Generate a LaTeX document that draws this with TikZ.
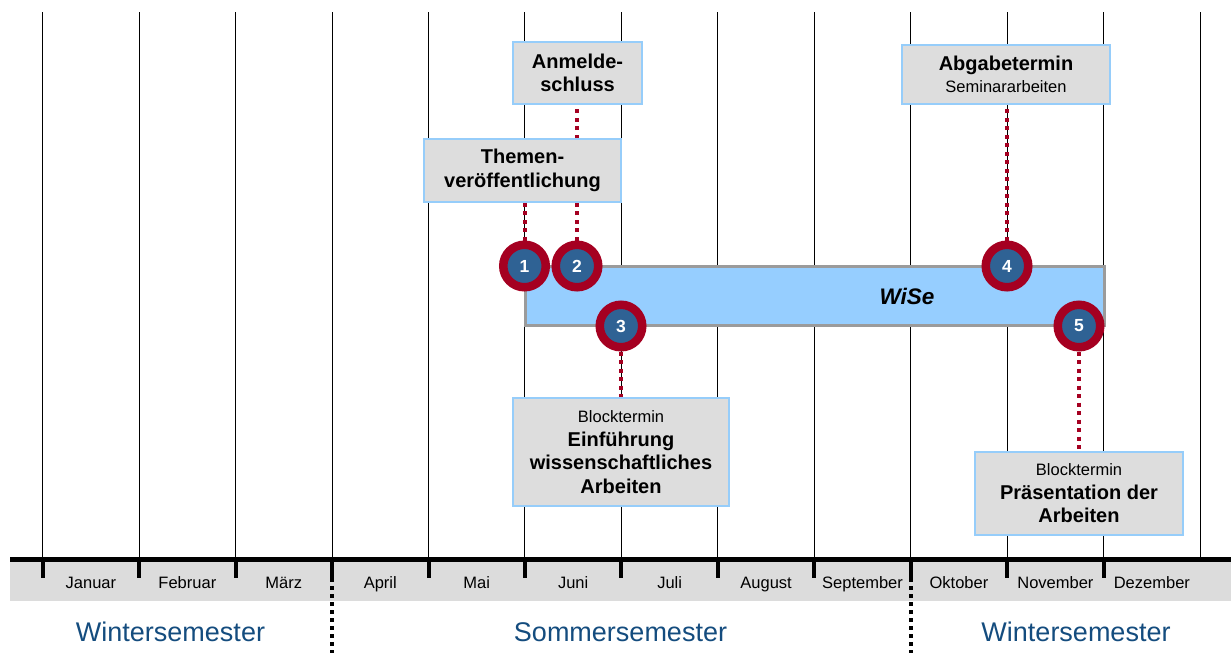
\documentclass[tikz,border=0pt]{standalone}
\usepackage{fontspec}
\setmainfont{Liberation Sans}
\definecolor{bandgray}{RGB}{220,220,220}
\definecolor{boxgray}{RGB}{221,221,221}
\definecolor{boxedge}{RGB}{150,205,250}
\definecolor{barblue}{RGB}{150,206,255}
\definecolor{baredge}{RGB}{155,155,155}
\definecolor{markred}{RGB}{165,0,33}
\definecolor{markblue}{RGB}{47,98,148}
\definecolor{semblue}{RGB}{20,76,126}
\tikzset{
  gridline/.style={line width=1pt, black},
  tickmark/.style={line width=4pt, black},
  semdiv/.style={line width=3.5pt, black, dash pattern=on 3.5pt off 4.5pt},
  reddots/.style={line width=4pt, markred, dash pattern=on 4pt off 4.5pt},
  month/.style={font=\fontsize{16.5}{19}\selectfont, inner sep=0pt, anchor=base},
  semester/.style={font=\fontsize{27}{31}\selectfont, text=semblue, inner sep=0pt, anchor=base},
  infobox/.style={draw=boxedge, line width=2pt, fill=boxgray, align=center, inner sep=0pt,
     font=\fontsize{20}{23.5}\selectfont\bfseries},
  marker/.style={circle, draw=markred, line width=8.5pt, fill=markblue, minimum size=42.5pt,
     inner sep=0pt, text=white, font=\fontsize{17.5}{19}\selectfont\bfseries},
}
\newcommand{\smalltxt}[1]{{\normalfont\fontsize{16.5}{19}\selectfont #1}}
\begin{document}
\begin{tikzpicture}[x=1pt,y=-1pt]
\useasboundingbox (0,0) rectangle (1231,653);
% grid lines
\foreach \i in {0,...,12}
  \draw[gridline] ({42.7+96.45*\i},12) -- ({42.7+96.45*\i},558);
% band and axis
\fill[bandgray] (10,562) rectangle (1231,601);
\draw[line width=5pt] (10,559.5) -- (1231,559.5);
\foreach \i in {0,...,11}
  \draw[tickmark] ({42.7+96.45*\i},558) -- ({42.7+96.45*\i},578);
% semester dividers
\draw[semdiv] (332.1,578) -- (332.1,653);
\draw[semdiv] (910.8,578) -- (910.8,653);
% month labels
\foreach \m [count=\i from 0] in {Januar,Februar,März,April,Mai,Juni,Juli,August,September,Oktober,November,Dezember}
  \node[month] (m\i) at ({42.7+96.45*(\i+0.5)},588.5) {\m};
% semester labels
\node[semester] (ws1) at (170.5,641) {Wintersemester};
\node[semester] (ss) at (620.5,641) {Sommersemester};
\node[semester] (ws2) at (1076,641) {Wintersemester};
% WiSe bar
\node[draw=baredge, line width=3pt, fill=barblue, minimum width=579pt, minimum height=59pt,
  inner sep=0pt] (bar) at (814.5,295.5) {};
\node[font=\fontsize{22.5}{25}\selectfont\bfseries\itshape, inner sep=0pt] (wise) at (907,296) {WiSe};
% marker positions
\coordinate (p1) at (524.5,266);
\coordinate (p2) at (577,266);
\coordinate (p3) at (621,326);
\coordinate (p4) at (1007,266);
\coordinate (p5) at (1079,326);
% box positions
\coordinate (anmC) at (577.5,73);
\coordinate (themC) at (522.5,170.5);
\coordinate (abgC) at (1006,74.5);
\coordinate (einC) at (621,452);
\coordinate (praC) at (1079,493.5);
% connectors
\draw[reddots] (p1) -- (p1 |- themC);
\draw[reddots] (p2) -- (p2 |- anmC);
\draw[reddots] (p3) -- (p3 |- einC);
\draw[reddots] (p4) -- (p4 |- abgC);
\draw[reddots] (p5) -- (p5 |- praC);
% markers
\node[marker] (c1) at (p1) {1};
\node[marker] (c2) at (p2) {2};
\node[marker] (c3) at (p3) {3};
\node[marker] (c4) at (p4) {4};
\node[marker] (c5) at (p5) {5};
% boxes
\node[infobox, minimum width=129pt, minimum height=62pt] (anm) at (anmC) {Anmelde-\\schluss};
\node[infobox, minimum width=197pt, minimum height=63pt] (them) at (themC) {Themen-\\veröffentlichung};
\node[infobox, minimum width=208pt, minimum height=59pt] (abg) at (abgC) {Abgabetermin\\[-1pt]\smalltxt{Seminararbeiten}};
\node[infobox, minimum width=216pt, minimum height=108pt] (ein) at (einC) {\smalltxt{Blocktermin}\\Einführung\\wissenschaftliches\\Arbeiten};
\node[infobox, minimum width=208pt, minimum height=83pt] (pra) at (praC) {\smalltxt{Blocktermin}\\Präsentation der\\Arbeiten};
\end{tikzpicture}
\end{document}
